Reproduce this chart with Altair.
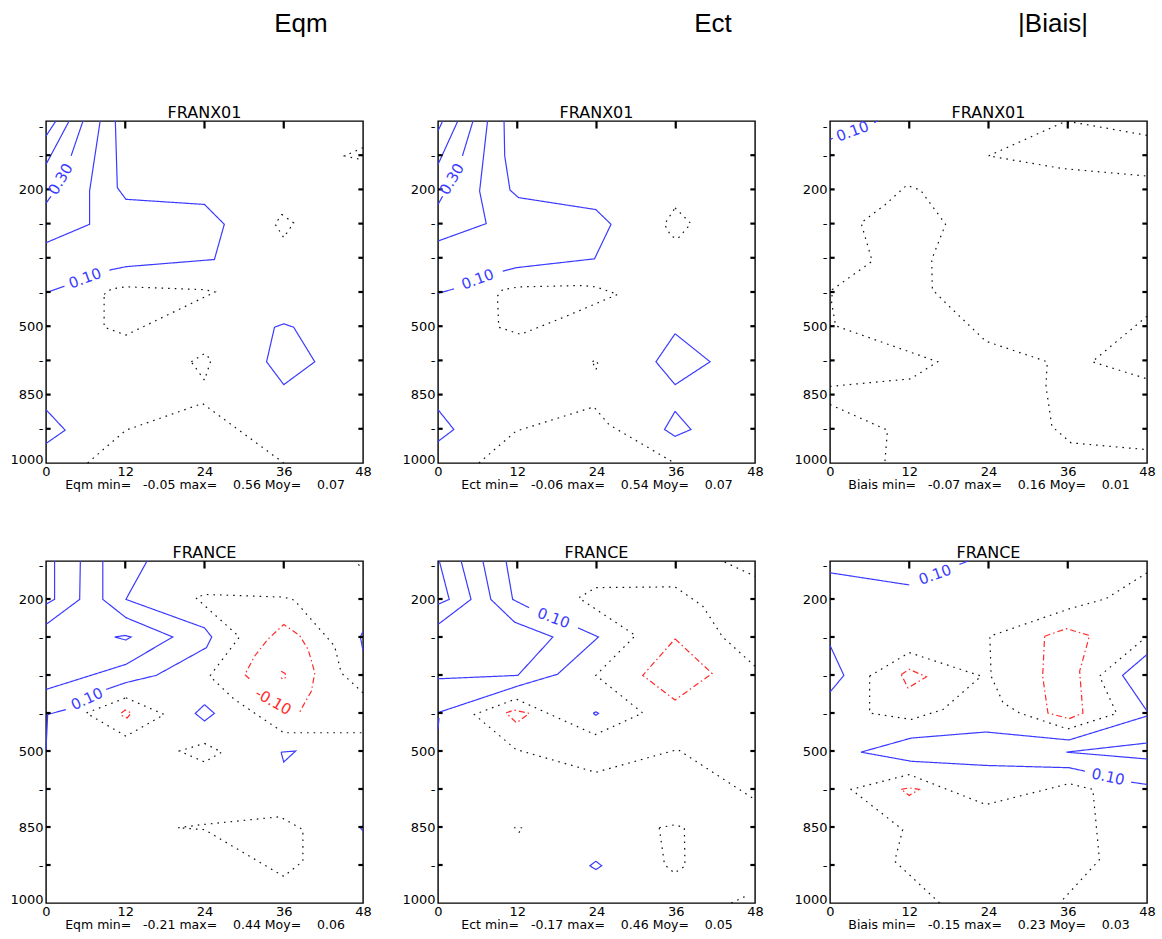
import altair as alt
import pandas as pd

# ---------------- axes ----------------
HOURS = [0, 12, 24, 36, 48]
TOP_LEVEL_POS = [0.15, 1, 2, 3, 4, 5, 6, 7, 8, 9, 9.9]
TOP_LEVEL_LAB = ["-", "-", "200", "-", "-", "-", "500", "-", "850", "-", "1000"]
BOT_LEVEL_POS = [0.13, 1, 2, 3, 4, 5, 6, 7, 8, 8.9]
BOT_LEVEL_LAB = ["-", "200", "-", "-", "-", "500", "-", "850", "-", "1000"]
TOP_NMAX = 10
BOT_NMAX = 9

HEADERS = ["Eqm", "Ect", "|Biais|"]
TITLES_TOP = ["FRANX01", "FRANX01", "FRANX01"]
TITLES_BOT = ["FRANCE", "FRANCE", "FRANCE"]
NB = "\u00a0"
FOOTERS_TOP = [
    f"Eqm min={NB*2} -0.05 max={NB*3} 0.56 Moy={NB*3} 0.07",
    f"Ect min={NB*2} -0.06 max={NB*3} 0.54 Moy={NB*3} 0.07",
    f"Biais min={NB*2} -0.07 max={NB*3} 0.16 Moy={NB*3} 0.01",
]
FOOTERS_BOT = [
    f"Eqm min={NB*2} -0.21 max={NB*3} 0.44 Moy={NB*3} 0.06",
    f"Ect min={NB*2} -0.17 max={NB*3} 0.46 Moy={NB*3} 0.05",
    f"Biais min={NB*2} -0.15 max={NB*3} 0.23 Moy={NB*3} 0.03",
]

# ---------------- contours: (hour, level index) ----------------
P1_SOLID = [
    [(0, 0.44), (1.5, 0)],
    [(0, 1.27), (3.5, 0)],
    [(5.6, 0), (3.8, 1.02)],
    [(0.75, 2.2), (0, 2.41)],
    [(0, 3.56), (6.6, 3.02), (6.6, 2.05), (8.2, 0)],
    [(10.5, 0), (10.8, 1.95), (12.1, 2.29), (24.0, 2.44), (27.0, 3.02), (25.5, 4.05), (12.1, 4.26), (9.6, 4.36)],
    [(2.8, 4.83), (0, 5.02)],
    [(34.6, 6.03), (36.0, 5.93), (37.5, 6.03), (40.7, 7.04), (36.0, 7.71), (33.4, 7.04), (34.6, 6.03)],
    [(0, 8.44), (2.9, 9.04), (0, 9.43)],
]
P1_DOT = [
    [(48, 0.78), (45.2, 1.02), (48, 1.14)],
    [(35.7, 2.73), (37.5, 2.98), (36.0, 3.41), (34.7, 3.02), (35.7, 2.73)],
    [(8.8, 5.07), (9.9, 4.91), (12.1, 4.85), (24.0, 4.93), (25.6, 5.0), (12.1, 6.26), (8.8, 6.03), (8.8, 5.07)],
    [(22.0, 7.04), (24.0, 6.8), (25.0, 6.98), (24.0, 7.58), (22.0, 7.04)],
    [(6.3, 10), (12.1, 9.04), (23.7, 8.26), (36.0, 10)],
]
P1_DASHDOT = []
P1_LABELS = [(5.9, 4.6, "0.10", 340, "#3b3bff"), (2.2, 1.7, "0.30", 300, "#3b3bff")]

P2_SOLID = [
    [(0, 0.29), (0.7, 0)],
    [(0, 1.27), (3.0, 0)],
    [(5.3, 0), (3.7, 1.02)],
    [(0.7, 2.2), (0, 2.44)],
    [(0, 3.51), (7.3, 3.0), (6.3, 2.05), (7.5, 0)],
    [(10.0, 0), (10.1, 1.02), (10.9, 2.02), (12.2, 2.24), (23.9, 2.59), (26.2, 3.02), (23.7, 4.03), (11.8, 4.29), (9.8, 4.39)],
    [(2.4, 4.91), (0, 5.04)],
    [(35.9, 6.22), (41.2, 7.04), (35.9, 7.71), (33.0, 7.04), (35.9, 6.22)],
    [(35.9, 8.49), (38.3, 9.02), (35.9, 9.22), (34.3, 9.02), (35.9, 8.49)],
    [(0, 8.44), (2.4, 9.02), (0, 9.37)],
]
P2_DOT = [
    [(35.9, 2.54), (38.3, 3.0), (36.3, 3.44), (35.3, 3.37), (34.3, 3.02), (35.9, 2.54)],
    [(9.0, 5.12), (9.8, 4.93), (12.3, 4.85), (21.9, 4.81), (23.9, 4.85), (27.2, 5.07), (19.4, 5.71), (12.5, 6.24), (9.2, 6.03), (9.0, 5.12)],
    [(23.4, 7.04), (23.8, 6.98), (24.3, 7.12), (23.9, 7.27), (23.4, 7.04)],
    [(6.2, 10), (11.8, 9.07), (23.6, 8.36), (25.9, 8.88), (35.8, 10)],
]
P2_DASHDOT = []
P2_LABELS = [(6.0, 4.63, "0.10", 340, "#3b3bff"), (2.1, 1.7, "0.30", 300, "#3b3bff")]

P3_SOLID = [
    [(0, 0.55), (0.4, 0.5)],
    [(6.7, 0.05), (7.2, 0)],
]
P3_DOT = [
    [(48, 0.42), (37.2, 0.05), (35.2, 0.05), (24.0, 1.02), (35.2, 1.39), (48, 1.61)],
    [(0, 7.76), (12.2, 7.54), (16.3, 7.04), (0.86, 5.99), (0.25, 5.32), (0.35, 4.93), (6.4, 4.1), (4.7, 2.98),
     (8.4, 2.44), (11.6, 1.88), (13.7, 2.02), (17.5, 3.02), (15.4, 4.05), (15.5, 4.93), (18.0, 5.41),
     (23.6, 6.44), (32.9, 7.04), (32.7, 7.76), (33.6, 8.93), (36.5, 9.41), (48, 9.61)],
    [(0, 8.29), (8.7, 9.04), (8.3, 10)],
    [(48, 5.71), (39.7, 7.04), (48, 7.54)],
]
P3_DASHDOT = []
P3_LABELS = [(3.4, 0.3, "0.10", 340, "#3b3bff")]

P4_SOLID = [
    [(0, 1.14), (1.3, 1.01), (1.3, 0)],
    [(0, 1.67), (5.1, 1.01), (5.2, 0)],
    [(0, 3.38), (12.1, 2.72), (19.2, 2.0), (12.1, 1.49), (8.6, 1.01), (8.6, 0)],
    [(15.3, 0), (12.1, 1.01), (24.0, 1.76), (25.1, 2.0), (24.3, 2.28), (16.7, 3.01), (12.1, 3.2), (9.1, 3.38)],
    [(3.0, 3.91), (0.25, 4.04), (0, 4.96)],
    [(10.4, 2.0), (11.9, 1.96), (12.9, 2.0), (12.1, 2.08), (10.4, 2.0)],
    [(24.0, 3.78), (25.5, 4.01), (24.0, 4.21), (22.6, 4.01), (24.0, 3.78)],
    [(35.6, 5.03), (37.8, 5.0), (36.0, 5.29), (35.6, 5.03)],
    [(48, 1.85), (47.6, 2.0), (48, 2.35)],
    [(48, 6.96), (47.6, 7.02), (48, 7.11)],
]
P4_DOT = [
    [(48, 3.47), (44.7, 2.94), (43.7, 2.24), (37.6, 1.03), (36.0, 0.95), (24.0, 0.88), (22.7, 0.97), (29.3, 2.0),
     (24.8, 3.03), (28.5, 3.64), (36.0, 4.52), (48, 4.52)],
    [(47.3, 0.09), (48, 0.22)],
    [(12.1, 3.6), (17.9, 4.04), (12.1, 4.61), (6.1, 4.0), (12.1, 3.6)],
    [(24.0, 4.8), (26.6, 5.03), (24.0, 5.29), (20.2, 5.0), (24.0, 4.8)],
    [(20.0, 7.02), (23.5, 6.94), (35.4, 6.73), (38.9, 7.07), (38.9, 7.9), (36.0, 8.3), (24.0, 7.07), (20.0, 7.02)],
]
P4_DASHDOT = [
    [(30.8, 3.10), (30.1, 2.99), (31.6, 2.5), (33.6, 2.06), (36.0, 1.67), (38.4, 1.96), (39.7, 2.33), (40.7, 2.94),
     (40.2, 3.42), (38.9, 3.82), (38.4, 3.98)],
    [(35.6, 2.9), (36.2, 2.96), (36.4, 3.05), (35.9, 3.12), (35.6, 3.07)],
    [(11.4, 4.0), (12.0, 3.92), (12.9, 4.0), (12.3, 4.13), (11.4, 4.06)],
]
P4_LABELS = [(6.2, 3.63, "0.10", 335, "#3b3bff"), (34.4, 3.7, "-0.10", 30, "#ff2a2a")]

P5_SOLID = [
    [(0, 1.14), (1.7, 1.01), (0.2, 0)],
    [(0, 1.67), (5.0, 1.01), (3.5, 0)],
    [(0, 3.1), (12.1, 3.01), (17.4, 2.0), (11.6, 1.61), (8.0, 1.01), (6.8, 0)],
    [(10.3, 0), (11.3, 1.01), (13.8, 1.23)],
    [(21.2, 1.76), (24.3, 2.0), (18.1, 2.98), (12.1, 3.29), (0, 3.99)],
    [(0.15, 4.13), (0, 4.43)],
    [(23.5, 4.01), (23.9, 3.97), (24.3, 4.01), (23.9, 4.06), (23.5, 4.01)],
    [(23.9, 7.9), (24.8, 8.02), (23.9, 8.12), (23.0, 8.02), (23.9, 7.9)],
]
P5_DOT = [
    [(48, 2.77), (43.1, 2.0), (40.1, 1.19), (35.9, 0.68), (23.9, 0.7), (21.3, 0.97), (29.9, 1.96), (23.9, 3.01),
     (31.0, 4.0), (23.8, 4.57), (11.8, 3.63), (5.5, 4.04), (11.8, 4.96), (23.9, 5.56), (36.3, 4.96), (48, 6.28)],
    [(43.4, 0.03), (48, 0.4)],
    [(11.5, 7.02), (12.8, 7.02), (11.9, 7.23)],
    [(33.5, 7.02), (35.9, 6.94), (37.3, 7.02), (37.4, 8.03), (35.8, 8.21), (34.3, 7.99), (33.5, 7.02)],
    [(44.4, 9.0), (47.1, 8.78)],
]
P5_DASHDOT = [
    [(35.9, 2.05), (41.5, 2.96), (35.9, 3.66), (31.0, 3.01), (35.9, 2.05)],
    [(10.3, 4.0), (11.5, 3.92), (13.8, 4.01), (11.9, 4.26), (10.3, 4.0)],
]
P5_LABELS = [(17.5, 1.5, "0.10", 20, "#3b3bff")]

P6_SOLID = [
    [(0, 0.31), (12.0, 0.63)],
    [(19.6, 0.09), (20.9, 0.0)],
    [(0, 2.22), (2.1, 3.01), (0, 3.45)],
    [(48, 2.46), (44.3, 3.01), (48, 3.95)],
    [(48, 4.08), (36.2, 4.71), (23.6, 4.5), (12.3, 4.66), (4.7, 5.03), (12.3, 5.27), (23.6, 5.38), (36.2, 5.44), (38.6, 5.53)],
    [(45.6, 5.82), (48, 5.88)],
    [(48, 4.79), (35.8, 5.03), (48, 5.21)],
]
P6_DOT = [
    [(48, 0.31), (41.8, 0.99), (36.2, 1.26), (24.2, 1.98), (24.4, 3.03), (26.2, 3.73), (28.7, 4.0), (36.0, 4.42),
     (43.4, 4.01), (40.8, 3.03), (48, 1.98)],
    [(6.0, 3.03), (12.0, 2.41), (22.9, 3.03), (17.1, 3.91), (12.3, 4.17), (6.0, 4.0), (6.0, 3.03)],
    [(16.6, 9.0), (9.8, 7.9), (11.0, 7.07), (3.2, 6.01), (12.0, 5.62), (23.6, 6.41), (36.2, 5.86), (39.8, 6.01),
     (40.8, 7.86), (34.8, 9.0)],
]
P6_DASHDOT = [
    [(32.5, 1.98), (35.8, 1.78), (39.3, 1.96), (37.8, 2.9), (38.3, 4.0), (36.2, 4.15), (33.0, 4.0), (32.2, 3.03), (32.5, 1.98)],
    [(10.8, 2.99), (12.0, 2.85), (14.6, 3.05), (11.8, 3.34), (10.8, 2.99)],
    [(10.8, 6.01), (12.0, 5.97), (13.5, 6.01), (12.0, 6.17), (10.8, 6.01)],
]
P6_LABELS = [(15.9, 0.36, "0.10", 340, "#3b3bff"), (42.1, 5.68, "0.10", 12, "#3b3bff")]

# ---------------- styling ----------------
BLUE = "#3b3bff"
RED = "#ff2a2a"
BLACK = "#111111"
FONT = "DejaVu Sans"
W, H = 317, 342


def label_expr(pos, lab):
    expr = "'-'"
    for p, l in zip(pos, lab):
        if l != "-":
            expr = f"datum.value == {p} ? '{l}' : " + expr
    return expr


def panel(solid, dot, dashdot, labels, levpos, levlab, nmax, title, footer, header=None, header_dx=0):
    rows = []
    for kind, lines in (("solid", solid), ("dot", dot), ("dashdot", dashdot)):
        for i, line in enumerate(lines):
            for j, (h, l) in enumerate(line):
                rows.append({"kind": kind, "cid": f"{kind}{i}", "ord": j, "h": h, "lev": l})
    df = pd.DataFrame(rows)

    xsc = alt.Scale(domain=[0, 48], nice=False, zero=False)
    ysc = alt.Scale(domain=[0, nmax], reverse=True, nice=False, zero=False)
    xax = alt.Axis(values=HOURS, ticks=False, domain=False, grid=False, labelFont=FONT,
                   labelFontSize=13, labelColor="black", labelPadding=2, labelFlush=False,
                   title=footer, titleFont=FONT, titleFontSize=12.5, titleFontWeight="normal",
                   titleColor="black", titlePadding=0)
    yax = alt.Axis(values=levpos, labelExpr=label_expr(levpos, levlab), ticks=False, domain=False,
                   grid=False, labelFont=FONT, labelFontSize=13, labelColor="black", labelPadding=3,
                   labelFlush=False, labelOverlap=False, title=None)

    lines = alt.Chart(df).mark_line(strokeWidth=1.2, strokeCap="butt").encode(
        x=alt.X("h:Q", scale=xsc, axis=xax),
        y=alt.Y("lev:Q", scale=ysc, axis=yax),
        detail="cid:N",
        order="ord:Q",
        color=alt.Color("kind:N", scale=alt.Scale(domain=["solid", "dot", "dashdot"],
                                                  range=[BLUE, BLACK, RED]), legend=None),
        strokeDash=alt.StrokeDash("kind:N", scale=alt.Scale(domain=["solid", "dot", "dashdot"],
                                                            range=[[1, 0], [1.6, 5], [6, 3, 1.5, 3]]),
                                  legend=None),
    )

    # inner tick marks on the frame
    trows = []
    for p in levpos[1:-1]:
        trows.append({"x1": 0, "x2": 0.7, "y1": p, "y2": p})
        trows.append({"x1": 47.3, "x2": 48, "y1": p, "y2": p})
    for hh in HOURS[1:-1]:
        trows.append({"x1": hh, "x2": hh, "y1": 0, "y2": 0.22 * nmax / 10})
    ticks = alt.Chart(pd.DataFrame(trows)).mark_rule(color="black", strokeWidth=2.2).encode(
        x=alt.X("x1:Q", scale=xsc, axis=xax), x2="x2:Q",
        y=alt.Y("y1:Q", scale=ysc, axis=yax), y2="y2:Q",
    )

    ldf = pd.DataFrame(labels, columns=["h", "lev", "txt", "ang", "col"])
    texts = alt.Chart(ldf).mark_text(font=FONT, fontSize=15, align="center", baseline="middle").encode(
        x=alt.X("h:Q", scale=xsc, axis=xax),
        y=alt.Y("lev:Q", scale=ysc, axis=yax),
        text="txt:N",
        angle=alt.Angle("ang:Q", scale=None),
        color=alt.Color("col:N", scale=None),
    )

    ttl = alt.Chart(pd.DataFrame({"t": [title]})).mark_text(
        font=FONT, fontSize=16, align="center", baseline="alphabetic",
        x=W / 2, y=-3, color="black").encode(text="t:N")

    layers = [lines, ticks, texts, ttl]
    if header is not None:
        hdr = alt.Chart(pd.DataFrame({"t": [header]})).mark_text(
            font="Liberation Sans", fontSize=26, align="center", baseline="alphabetic",
            x=header_dx, y=-89, color="black").encode(text="t:N")
        layers.append(hdr)

    return alt.layer(*layers).properties(width=W, height=H)


p1 = panel(P1_SOLID, P1_DOT, P1_DASHDOT, P1_LABELS, TOP_LEVEL_POS, TOP_LEVEL_LAB, TOP_NMAX,
           TITLES_TOP[0], FOOTERS_TOP[0], HEADERS[0], 255)
p2 = panel(P2_SOLID, P2_DOT, P2_DASHDOT, P2_LABELS, TOP_LEVEL_POS, TOP_LEVEL_LAB, TOP_NMAX,
           TITLES_TOP[1], FOOTERS_TOP[1], HEADERS[1], 275)
p3 = panel(P3_SOLID, P3_DOT, P3_DASHDOT, P3_LABELS, TOP_LEVEL_POS, TOP_LEVEL_LAB, TOP_NMAX,
           TITLES_TOP[2], FOOTERS_TOP[2], HEADERS[2], 223)
p4 = panel(P4_SOLID, P4_DOT, P4_DASHDOT, P4_LABELS, BOT_LEVEL_POS, BOT_LEVEL_LAB, BOT_NMAX,
           TITLES_BOT[0], FOOTERS_BOT[0])
p5 = panel(P5_SOLID, P5_DOT, P5_DASHDOT, P5_LABELS, BOT_LEVEL_POS, BOT_LEVEL_LAB, BOT_NMAX,
           TITLES_BOT[1], FOOTERS_BOT[1])
p6 = panel(P6_SOLID, P6_DOT, P6_DASHDOT, P6_LABELS, BOT_LEVEL_POS, BOT_LEVEL_LAB, BOT_NMAX,
           TITLES_BOT[2], FOOTERS_BOT[2])

chart = alt.concat(p1, p2, p3, p4, p5, p6, columns=3,
                   spacing=alt.RowColnumber(row=98, column=75), bounds="flush").properties(
    padding={"left": 9, "top": 10, "right": 5, "bottom": 5},
    background="white",
).configure_view(stroke="black", strokeWidth=1.4)

chart.save("out.html", embed_options={"renderer": "svg", "actions": False})
